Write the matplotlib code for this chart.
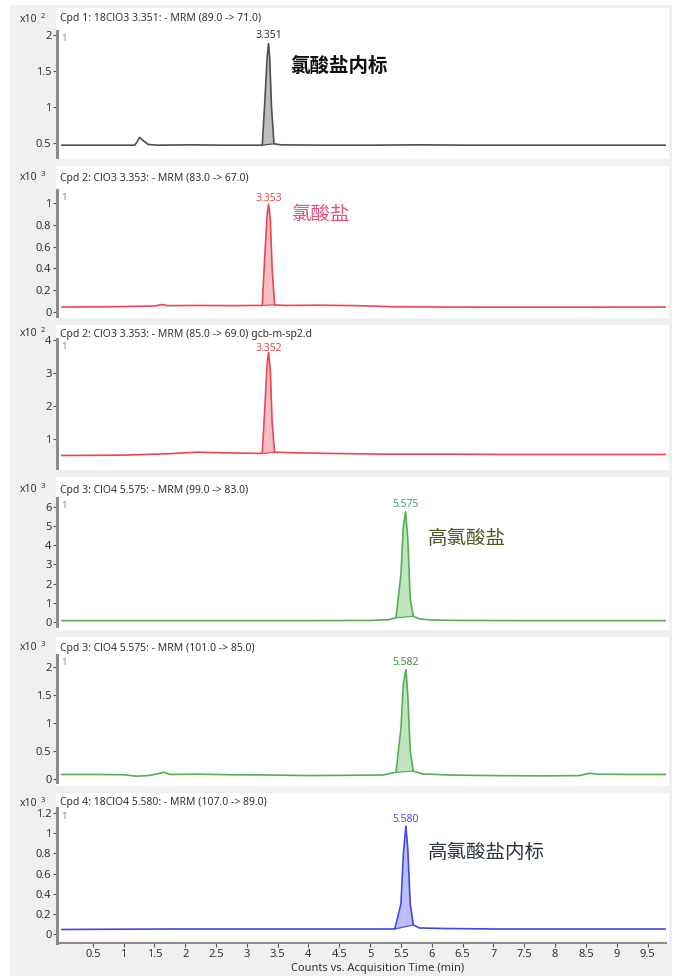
import matplotlib
matplotlib.use("Agg")
import matplotlib.pyplot as plt
from matplotlib.patches import Rectangle

plt.rcParams['font.family'] = ['Noto Sans', 'Noto Sans CJK SC', 'DejaVu Sans']

W, H = 675, 976

# --- chromatogram traces (time in min, counts in units of the x10^n scale) ---
t1 = [0.00, 0.60, 1.08, 1.18, 1.23, 1.26, 1.31, 1.40, 1.55, 2.10, 2.60, 3.10, 3.25, 3.29, 3.33, 3.351,
      3.37, 3.40, 3.44, 3.55, 4.20, 5.00, 5.80, 6.60, 7.40, 8.20, 9.00, 9.80]
i1 = [0.47, 0.47, 0.47, 0.47, 0.53, 0.58, 0.54, 0.48, 0.47, 0.475, 0.47, 0.47, 0.47, 1.05, 1.70, 1.88,
      1.70, 1.00, 0.49, 0.475, 0.47, 0.47, 0.475, 0.47, 0.47, 0.47, 0.47, 0.47]

t2 = [0.00, 0.80, 1.50, 1.62, 1.72, 2.20, 2.80, 3.10, 3.25, 3.29, 3.33, 3.353, 3.38, 3.41, 3.45, 3.60,
      4.20, 4.80, 5.40, 6.20, 7.20, 8.20, 9.20, 9.80]
i2 = [0.045, 0.048, 0.055, 0.068, 0.058, 0.060, 0.058, 0.060, 0.060, 0.50, 0.90, 0.99, 0.85, 0.40, 0.065,
      0.060, 0.062, 0.058, 0.048, 0.045, 0.044, 0.044, 0.045, 0.045]

t3 = [0.00, 1.00, 1.70, 2.20, 2.60, 3.00, 3.25, 3.29, 3.33, 3.352, 3.38, 3.41, 3.45, 3.80, 4.40, 5.20,
      6.20, 7.20, 8.20, 9.20, 9.80]
i3 = [0.50, 0.51, 0.55, 0.60, 0.58, 0.57, 0.56, 1.90, 3.30, 3.62, 3.10, 1.50, 0.60, 0.58, 0.56, 0.54,
      0.54, 0.53, 0.53, 0.53, 0.53]

t4 = [0.00, 1.00, 2.00, 3.00, 4.00, 5.00, 5.30, 5.42, 5.50, 5.54, 5.575, 5.61, 5.65, 5.70, 5.80, 6.00,
      6.50, 7.50, 8.50, 9.80]
i4 = [0.07, 0.07, 0.07, 0.07, 0.07, 0.08, 0.12, 0.22, 2.50, 5.00, 5.75, 4.40, 1.20, 0.30, 0.16, 0.10,
      0.08, 0.07, 0.07, 0.07]

t5 = [0.00, 0.60, 1.00, 1.20, 1.40, 1.55, 1.65, 1.75, 2.20, 2.80, 3.40, 4.00, 4.60, 5.20, 5.42, 5.50,
      5.54, 5.582, 5.61, 5.65, 5.70, 5.85, 6.30, 7.00, 7.80, 8.40, 8.55, 8.70, 9.20, 9.80]
i5 = [0.08, 0.08, 0.075, 0.05, 0.06, 0.09, 0.12, 0.08, 0.085, 0.075, 0.07, 0.06, 0.065, 0.07, 0.12, 0.90,
      1.70, 1.95, 1.50, 0.50, 0.14, 0.09, 0.07, 0.06, 0.055, 0.06, 0.10, 0.085, 0.08, 0.08]

t6 = [0.00, 1.00, 2.00, 3.00, 4.00, 5.00, 5.40, 5.50, 5.54, 5.58, 5.61, 5.65, 5.70, 5.80, 6.20, 7.00,
      8.00, 9.00, 9.80]
i6 = [0.045, 0.048, 0.05, 0.05, 0.05, 0.05, 0.05, 0.30, 0.80, 1.07, 0.85, 0.30, 0.09, 0.06, 0.055, 0.05,
      0.05, 0.05, 0.05]

# integration windows of the labelled peaks
windows = [(3.25, 3.44), (3.25, 3.45), (3.25, 3.45), (5.42, 5.70), (5.42, 5.70), (5.40, 5.70)]

headers = [
    "Cpd 1: 18ClO3 3.351: - MRM (89.0 -> 71.0)",
    "Cpd 2: ClO3 3.353: - MRM (83.0 -> 67.0)",
    "Cpd 2: ClO3 3.353: - MRM (85.0 -> 69.0) gcb-m-sp2.d",
    "Cpd 3: ClO4 5.575: - MRM (99.0 -> 83.0)",
    "Cpd 3: ClO4 5.575: - MRM (101.0 -> 85.0)",
    "Cpd 4: 18ClO4 5.580: - MRM (107.0 -> 89.0)",
]
exponents = ["2", "3", "2", "3", "3", "3"]

yticks = [
    [0.5, 1, 1.5, 2],
    [0, 0.2, 0.4, 0.6, 0.8, 1],
    [1, 2, 3, 4],
    [0, 1, 2, 3, 4, 5, 6],
    [0, 0.5, 1, 1.5, 2],
    [0, 0.2, 0.4, 0.6, 0.8, 1, 1.2],
]
xticks = [0.5, 1, 1.5, 2, 2.5, 3, 3.5, 4, 4.5, 5, 5.5, 6, 6.5, 7, 7.5, 8, 8.5, 9, 9.5]

names = ["氯酸盐内标", "氯酸盐", None, "高氯酸盐", None, "高氯酸盐内标"]

# panel geometry in pixels: spine top, spine bottom, white box top, white box bottom, header y
layout = [
    (31, 157, 8, 159, 19),
    (190, 316, 166, 318, 178),
    (339, 468, 325, 470, 334),
    (498, 626, 477, 630, 490),
    (655, 782, 637, 786, 648),
    (808, 943, 793, 945, 803),
]
ylims = [(0.306, 2.056), (-0.037, 1.12), (0.12, 4.03), (-0.21, 6.47), (-0.054, 2.21), (-0.089, 1.25)]

line_colors = ['#505050', '#f04652', '#f04652', '#52b052', '#52b052', '#4646e6']
fill_colors = ['#8a8a8a', '#f58a92', '#f58a92', '#8fd08f', '#8fd08f', '#8a8af0']
label_colors = ['#333333', '#f04652', '#f04652', '#3f9a7a', '#3f8f3f', '#5050d0']
label_offsets = [6, 4, 3, 5, 5, 5]
name_styles = [
    dict(color='#111111', weight='bold', pos=(290, 66)),
    dict(color='#e8507a', weight='normal', pos=(292, 214)),
    None,
    dict(color='#4b5a1e', weight='normal', pos=(428, 538)),
    None,
    dict(color='#2b3440', weight='normal', pos=(428, 853)),
]

traces = [(t1, i1), (t2, i2), (t3, i3), (t4, i4), (t5, i5), (t6, i6)]

fig = plt.figure(figsize=(W / 100, H / 100), dpi=100, facecolor='white')

def fx(px):
    return px / W

def fy(py):
    return 1 - py / H

# light grey frame behind everything, white boxes for each trace
fig.patches.append(Rectangle((fx(10), 0), fx(662), fy(5), transform=fig.transFigure,
                             facecolor='#f0f0f0', edgecolor='none', zorder=-3))

left, right = 57, 666
for k, ((t, y), (top, bot, wtop, wbot, hy)) in enumerate(zip(traces, layout)):
    fig.patches.append(Rectangle((fx(left - 1), fy(wbot)), fx(669 - left + 1), (wbot - wtop) / H,
                                 transform=fig.transFigure, facecolor='white',
                                 edgecolor='none', zorder=-2))
    ax = fig.add_axes([fx(left), fy(bot), fx(right - left), (bot - top) / H])
    ax.set_facecolor('none')
    ax.set_xlim(-0.08, 9.8)
    ax.set_ylim(*ylims[k])

    ax.plot(t, y, color=line_colors[k], lw=1.2, zorder=3)
    a, b = windows[k]
    tw = [tt for tt in t if a <= tt <= b]
    yw = [yy for tt, yy in zip(t, y) if a <= tt <= b]
    base = [yw[0] + (yw[-1] - yw[0]) * (tt - tw[0]) / (tw[-1] - tw[0]) for tt in tw]
    ax.fill_between(tw, yw, base, color=fill_colors[k], alpha=0.55, lw=0, zorder=2)
    ax.plot([tw[0], tw[-1]], [yw[0], yw[-1]], color=line_colors[k], lw=0.8, zorder=3)

    # retention time above the apex
    j = y.index(max(y))
    ax.annotate(f"{t[j]:.3f}", (t[j], y[j]), xytext=(0, label_offsets[k]), textcoords='offset points',
                ha='center', va='center', fontsize=7.5, color=label_colors[k], zorder=4)

    ax.text(0.006, 0.94, "1", transform=ax.transAxes, fontsize=7, color='#8a8a8a',
            ha='left', va='center')

    for s in ['top', 'right']:
        ax.spines[s].set_visible(False)
    ax.spines['left'].set_color('#8c8c8c')
    ax.spines['left'].set_linewidth(2.2)
    ax.set_yticks(yticks[k])
    ax.set_yticklabels([f"{v:g}" for v in yticks[k]])
    ax.tick_params(axis='y', direction='out', length=3, width=0.8, color='#555555',
                   labelsize=8, labelcolor='#333333', pad=1)

    if k < 5:
        ax.spines['bottom'].set_visible(False)
        ax.set_xticks([])
    else:
        ax.spines['bottom'].set_color('#8c8c8c')
        ax.spines['bottom'].set_linewidth(1.6)
        ax.set_xticks(xticks)
        ax.set_xticklabels([f"{v:g}" for v in xticks])
        ax.tick_params(axis='x', direction='out', length=3, width=0.8, color='#555555',
                       labelsize=8, labelcolor='#333333', pad=1)

    # scale factor and trace header
    fig.text(fx(20), fy(hy), "x10", fontsize=7.5, color='#333333', ha='left', va='center')
    fig.text(fx(41), fy(hy - 3), exponents[k], fontsize=5.5, color='#333333', ha='left', va='center')
    fig.text(fx(60), fy(hy), headers[k], fontsize=7.5, color='#333333', ha='left', va='center')

    if names[k]:
        st = name_styles[k]
        fig.text(fx(st['pos'][0]), fy(st['pos'][1]), names[k], fontsize=14,
                 color=st['color'], weight=st['weight'], ha='left', va='center',
                 family=['Noto Sans CJK SC', 'DejaVu Sans'])

fig.text(fx(378), fy(968), "Counts vs. Acquisition Time (min)", fontsize=8,
         color='#333333', ha='center', va='center')

fig.savefig("out.png", dpi=100, facecolor=fig.get_facecolor())
